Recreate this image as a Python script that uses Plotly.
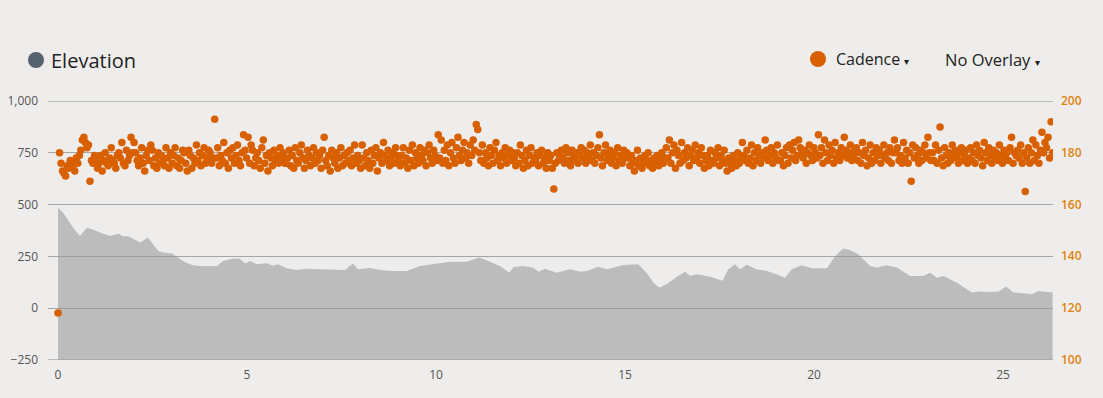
import numpy as np
import plotly.graph_objects as go

# ---- Elevation profile (km, metres) ----
elev_km = [0.0, 0.14, 0.40, 0.58, 0.76, 0.93, 1.11, 1.38, 1.60, 1.72, 1.85, 2.17, 2.38, 2.65, 2.78,
           3.01, 3.36, 3.57, 3.84, 4.20, 4.37, 4.63, 4.81, 4.95, 5.08, 5.26, 5.52, 5.69, 5.82, 6.05,
           6.31, 6.58, 6.93, 7.28, 7.59, 7.80, 7.94, 8.25, 8.52, 8.86, 9.22, 9.58, 9.92, 10.37, 10.81,
           11.15, 11.43, 11.69, 11.94, 12.05, 12.31, 12.57, 12.71, 12.88, 13.19, 13.54, 13.81, 13.99,
           14.29, 14.52, 14.96, 15.35, 15.57, 15.75, 15.91, 16.10, 16.37, 16.59, 16.72, 16.90, 17.25,
           17.58, 17.73, 17.91, 18.04, 18.22, 18.48, 18.75, 19.01, 19.23, 19.41, 19.67, 19.94, 20.34,
           20.56, 20.77, 20.95, 21.17, 21.48, 21.66, 21.92, 22.19, 22.54, 22.89, 23.07, 23.25, 23.42,
           23.78, 24.17, 24.39, 24.66, 24.88, 25.08, 25.27, 25.63, 25.76, 25.93, 26.16, 26.31]
elev_m = [484, 460, 388, 348, 388, 380, 365, 348, 360, 346, 348, 317, 341, 276, 269,
          264, 221, 207, 202, 203, 228, 240, 239, 215, 228, 212, 217, 204, 212, 192,
          184, 190, 188, 184, 184, 216, 188, 194, 184, 179, 179, 203, 212, 224, 224,
          244, 224, 203, 171, 199, 203, 195, 176, 190, 171, 188, 175, 179,
          200, 188, 208, 212, 171, 123, 100, 115, 151, 175, 155, 163, 151,
          132, 188, 212, 188, 209, 188, 179, 163, 147, 188, 207, 192, 192,
          252, 288, 281, 260, 203, 196, 207, 196, 155, 155, 171, 147, 155,
          123, 75, 80, 78, 80, 104, 75, 71, 67, 83, 78, 75]

# ---- Cadence samples (spm), in recording order, ~25 per km ----
cadence = [
    118, 180, 176, 173, 172, 171, 175, 174, 177, 176, 175, 173, 178, 176, 179, 181, 185, 186, 184, 182, 183, 169, 177, 176, 179,
    178, 174, 176, 179, 173, 177, 180, 176, 175, 178, 182, 177, 176, 174, 179, 180, 178, 184, 176, 175, 181, 177, 179, 186, 180,
    184, 180, 177, 175, 178, 182, 176, 173, 179, 181, 177, 183, 181, 175, 178, 174, 180, 176, 179, 177, 175, 182, 178, 174, 180,
    176, 179, 182, 175, 178, 174, 177, 181, 180, 176, 173, 181, 179, 174, 178, 176, 183, 177, 180, 175, 179, 182, 176, 178, 181,
    180, 176, 178, 193, 178, 182, 175, 179, 177, 184, 176, 180, 174, 181, 178, 182, 176, 179, 183, 177, 175, 180, 187, 181, 178,
    186, 176, 183, 181, 175, 178, 180, 177, 174, 182, 185, 176, 179, 173, 180, 178, 175, 181, 177, 179, 176, 182, 178, 180, 176,
    176, 178, 181, 175, 179, 174, 182, 177, 176, 180, 183, 178, 174, 177, 181, 179, 175, 178, 182, 176, 180, 177, 179, 174, 181,
    186, 177, 175, 179, 173, 181, 178, 176, 180, 174, 178, 182, 175, 179, 176, 180, 177, 181, 175, 178, 183, 176, 179, 177, 174,
    183, 178, 175, 180, 177, 174, 181, 176, 179, 182, 173, 178, 180, 176, 184, 179, 177, 181, 175, 178, 180, 176, 182, 179, 177,
    175, 179, 182, 176, 178, 174, 181, 177, 183, 175, 180, 178, 176, 182, 179, 177, 181, 175, 180, 183, 178, 176, 181, 179, 177,
    187, 178, 185, 176, 181, 177, 183, 175, 180, 184, 178, 176, 182, 186, 179, 177, 181, 184, 178, 180, 176, 183, 179, 185, 181,
    191, 189, 180, 177, 183, 176, 180, 178, 175, 182, 179, 176, 181, 184, 177, 179, 175, 180, 178, 182, 176, 179, 181, 177, 180,
    178, 175, 180, 176, 183, 179, 174, 177, 181, 175, 179, 182, 176, 178, 177, 180, 175, 179, 181, 176, 178, 174, 180, 177, 179,
    174, 166, 176, 180, 177, 179, 181, 178, 176, 182, 180, 177, 175, 181, 179, 177, 180, 176, 179, 182, 178, 181, 176, 180, 178,
    183, 177, 180, 176, 179, 182, 187, 178, 175, 180, 183, 177, 179, 181, 176, 178, 180, 175, 182, 177, 179, 176, 181, 178, 180,
    178, 175, 179, 176, 173, 177, 181, 175, 178, 174, 176, 179, 177, 180, 175, 177, 174, 178, 176, 179, 175, 177, 180, 176, 178,
    182, 178, 185, 176, 180, 183, 174, 181, 179, 176, 184, 177, 180, 178, 182, 175, 179, 181, 177, 183, 178, 180, 176, 182, 179,
    174, 177, 179, 175, 181, 177, 176, 180, 178, 182, 175, 179, 177, 181, 176, 173, 178, 176, 174, 179, 177, 175, 180, 176, 178,
    184, 179, 177, 181, 176, 178, 183, 175, 180, 177, 182, 179, 176, 180, 178, 185, 181, 177, 179, 182, 176, 180, 178, 183, 177,
    177, 180, 175, 179, 182, 176, 183, 178, 181, 184, 177, 179, 185, 182, 180, 178, 181, 176, 180, 183, 179, 177, 182, 180, 178,
    187, 179, 182, 176, 185, 180, 177, 183, 179, 181, 176, 184, 178, 180, 177, 182, 179, 186, 181, 178, 180, 183, 177, 179, 181,
    182, 177, 180, 176, 184, 179, 181, 175, 178, 183, 176, 180, 177, 182, 179, 181, 176, 179, 183, 178, 180, 177, 182, 176, 180,
    185, 180, 182, 177, 179, 176, 184, 178, 181, 176, 180, 169, 183, 178, 182, 179, 176, 181, 177, 180, 183, 178, 186, 180, 177,
    180, 177, 183, 176, 181, 190, 178, 175, 182, 179, 176, 180, 177, 183, 179, 181, 178, 176, 180, 182, 177, 179, 181, 176, 178,
    182, 177, 180, 176, 183, 179, 181, 178, 175, 184, 180, 177, 182, 179, 176, 181, 178, 180, 177, 183, 179, 176, 181, 178, 180,
    177, 182, 186, 176, 180, 179, 181, 178, 183, 176, 180, 165, 178, 182, 176, 180, 185, 177, 183, 179, 176, 181, 188, 180, 184,
    182, 186, 178, 192, 180,
]
cadence_start_km = 0.0
cadence_end_km = 26.31

x_ticks = [0, 5, 10, 15, 20, 25]
elev_ticks = [-250, 0, 250, 500, 750, 1000]
cad_ticks = [100, 120, 140, 160, 180, 200]

BG = "#eeedeb"
ORANGE = "#d86000"
GRID = "#a6a6a6"

cad_km = np.linspace(cadence_start_km, cadence_end_km, len(cadence))

fig = go.Figure()
# baseline for the elevation fill
fig.add_trace(go.Scatter(x=[elev_km[0], elev_km[-1]], y=[elev_ticks[0]] * 2, mode="lines",
                         line=dict(width=0), hoverinfo="skip", showlegend=False))
fig.add_trace(go.Scatter(x=elev_km, y=elev_m, mode="lines", line=dict(width=0, color="rgba(0,0,0,0)"),
                         fill="tonexty", fillcolor="rgba(148,150,153,0.56)", showlegend=False, name="Elevation"))
fig.add_trace(go.Scatter(x=cad_km, y=cadence, mode="markers", yaxis="y2", name="Cadence",
                         marker=dict(color=ORANGE, size=7.5, line=dict(width=0)), showlegend=False))

W, H = 1103, 398
L, R, T, B = 48, 50, 101, 38
pw, ph = W - L - R, H - T - B
def px(xp):
    return (xp - L) / pw
def py(yp):
    return (H - B - yp) / ph

fig.update_layout(
    width=W, height=H,
    margin=dict(l=L, r=R, t=T, b=B, autoexpand=False),
    paper_bgcolor=BG, plot_bgcolor=BG,
    font=dict(family="Open Sans, sans-serif", color="#555555", size=12),
    xaxis=dict(range=[-0.265, 26.32], tickvals=x_ticks, showgrid=False, zeroline=False, automargin=False,
               showline=False, ticks="", ticklabelstandoff=6, tickfont=dict(size=12, color="#555555")),
    yaxis=dict(range=[-251, 1001], tickvals=elev_ticks, tickformat=",", showgrid=True, automargin=False,
               gridcolor=GRID, gridwidth=1, zeroline=False, showline=False, ticks="",
               ticklabelstandoff=9, tickfont=dict(size=12, color="#555555")),
    yaxis2=dict(range=[99.8, 200.08], tickvals=cad_ticks, overlaying="y", side="right", automargin=False,
                showgrid=False, zeroline=False, showline=False, ticks="", ticklabelstandoff=7,
                tickfont=dict(size=12, color="#e0820f", family="Open Sans SemiBold, Open Sans, sans-serif")),
    showlegend=False,
)

# gridlines at the extreme ticks (plotly drops them at the plot edge)
for v in (elev_ticks[0], elev_ticks[-1]):
    fig.add_shape(type="line", xref="paper", yref="y", x0=0, x1=1, y0=v, y1=v,
                  line=dict(color=GRID, width=1), layer="below")

# legend-like header
fig.add_shape(type="circle", xref="paper", yref="paper", xsizemode="pixel", ysizemode="pixel",
              xanchor=px(36), yanchor=py(60), x0=-8, x1=8, y0=-8, y1=8,
              fillcolor="#56636f", line=dict(width=0))
fig.add_annotation(xref="paper", yref="paper", x=px(49), y=py(60), text="Elevation",
                   showarrow=False, xanchor="left", yanchor="middle",
                   font=dict(size=20, color="#222222", family="Open Sans, sans-serif"))
fig.add_shape(type="circle", xref="paper", yref="paper", xsizemode="pixel", ysizemode="pixel",
              xanchor=px(818), yanchor=py(59), x0=-8, x1=8, y0=-8, y1=8,
              fillcolor=ORANGE, line=dict(width=0))
fig.add_annotation(xref="paper", yref="paper", x=px(834), y=py(59), text="Cadence <span style='font-size:10px'>▾</span>",
                   showarrow=False, xanchor="left", yanchor="middle",
                   font=dict(size=16, color="#222222", family="Open Sans, sans-serif"))
fig.add_annotation(xref="paper", yref="paper", x=px(943), y=py(59), text="No Overlay <span style='font-size:10px'>▾</span>",
                   showarrow=False, xanchor="left", yanchor="middle",
                   font=dict(size=16.5, color="#222222", family="Open Sans, sans-serif"))

fig.write_html("out.html", config={"displayModeBar": False},
               post_script="document.body.style.margin='0';document.body.style.background='#eeedeb';")
